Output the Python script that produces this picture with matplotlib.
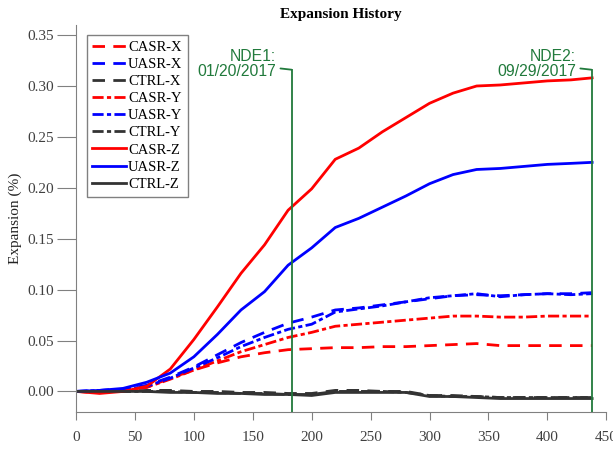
import numpy as np
import matplotlib.pyplot as plt

# --- datos ---
days = [0, 20, 40, 60, 80, 100, 120, 140, 160, 180, 200, 220, 240, 260, 280,
        300, 320, 340, 360, 380, 400, 420, 438]

casr_x = [0, -0.001, 0.001, 0.004, 0.013, 0.021, 0.028, 0.034, 0.038, 0.041, 0.042, 0.043,
          0.043, 0.044, 0.044, 0.045, 0.046, 0.047, 0.045, 0.045, 0.045, 0.045, 0.045]
uasr_x = [0, 0.001, 0.002, 0.006, 0.014, 0.024, 0.036, 0.048, 0.058, 0.067, 0.073, 0.080,
          0.082, 0.085, 0.088, 0.091, 0.094, 0.095, 0.094, 0.095, 0.096, 0.096, 0.097]
ctrl_x = [0, 0.000, 0.000, 0.001, 0.001, 0.000, 0.000, -0.001, -0.001, -0.002, -0.002, 0.001,
          0.001, 0.000, 0.000, -0.004, -0.004, -0.005, -0.006, -0.006, -0.006, -0.006, -0.006]
casr_y = [0, -0.001, 0.001, 0.004, 0.012, 0.021, 0.030, 0.039, 0.046, 0.053, 0.058, 0.064,
          0.066, 0.068, 0.070, 0.072, 0.074, 0.074, 0.073, 0.073, 0.074, 0.074, 0.074]
uasr_y = [0, 0.001, 0.002, 0.005, 0.013, 0.023, 0.033, 0.044, 0.053, 0.061, 0.066, 0.078,
          0.081, 0.084, 0.088, 0.092, 0.094, 0.096, 0.093, 0.095, 0.096, 0.095, 0.096]
ctrl_y = [0, 0.000, 0.000, 0.000, 0.000, -0.001, -0.001, -0.002, -0.002, -0.003, -0.003, 0.000,
          0.000, 0.000, -0.001, -0.004, -0.005, -0.005, -0.006, -0.006, -0.006, -0.006, -0.006]
casr_z = [0, -0.002, 0.000, 0.005, 0.022, 0.051, 0.083, 0.116, 0.144, 0.178, 0.199, 0.228,
          0.239, 0.255, 0.269, 0.283, 0.293, 0.300, 0.301, 0.303, 0.305, 0.306, 0.308]
uasr_z = [0, 0.001, 0.003, 0.009, 0.018, 0.034, 0.056, 0.080, 0.098, 0.124, 0.141, 0.161,
          0.170, 0.181, 0.192, 0.204, 0.213, 0.218, 0.219, 0.221, 0.223, 0.224, 0.225]
ctrl_z = [0, 0.000, 0.000, 0.000, -0.001, -0.001, -0.002, -0.002, -0.003, -0.003, -0.004, -0.001,
          -0.001, -0.001, -0.001, -0.005, -0.005, -0.006, -0.007, -0.007, -0.007, -0.007, -0.007]

nde_days = [183, 437.5]
nde_labels = ['NDE1:\n01/20/2017', 'NDE2:\n09/29/2017']

plt.rcParams['font.family'] = 'Liberation Serif'

fig = plt.figure(figsize=(6.13, 4.53), dpi=100)
ax = fig.add_axes([0.124, 0.091, 0.865, 0.854])

dash = (0, (4.5, 3))
dashdot = (0, (4, 1.2, 1.5, 1.2))
lw = 2.0

series = [
    (casr_x, 'red', dash, 'CASR-X'),
    (uasr_x, 'blue', dash, 'UASR-X'),
    (ctrl_x, '#333333', dash, 'CTRL-X'),
    (casr_y, 'red', dashdot, 'CASR-Y'),
    (uasr_y, 'blue', dashdot, 'UASR-Y'),
    (ctrl_y, '#333333', dashdot, 'CTRL-Y'),
    (casr_z, 'red', '-', 'CASR-Z'),
    (uasr_z, 'blue', '-', 'UASR-Z'),
    (ctrl_z, '#333333', '-', 'CTRL-Z'),
]
for vals, col, ls, lab in series:
    ax.plot(days, vals, color=col, linestyle=ls, linewidth=lw, label=lab)

# líneas NDE
green = '#217a3c'
for d, txt in zip(nde_days, nde_labels):
    ax.plot([d, d], [-0.02, 0.316], color=green, linewidth=1.3, zorder=5)
    ax.annotate(txt, xy=(d, 0.316), xytext=(d - 13, 0.322), ha='right', va='center',
                color=green, fontsize=11.3, family='Liberation Sans', linespacing=1.0,
                arrowprops=dict(arrowstyle='-', color=green, lw=1.3,
                                shrinkA=1, shrinkB=0))

ax.set_xlim(0, 450)
ax.set_ylim(-0.02, 0.36)
ax.set_xticks(np.arange(0, 451, 50))
ax.set_yticks(np.arange(0, 0.351, 0.05))
ax.set_yticklabels([f'{v:.2f}' for v in np.arange(0, 0.351, 0.05)])

for s in ['top', 'right']:
    ax.spines[s].set_visible(False)
for s in ['left', 'bottom']:
    ax.spines[s].set_color('#808080')
ax.tick_params(axis='y', direction='out', length=14, color='#808080', labelsize=11,
               labelcolor='#404040', pad=2)
ax.tick_params(axis='x', direction='out', length=6, color='#808080', labelsize=11,
               labelcolor='#404040', pad=8)

ax.set_ylabel('Expansion (%)', fontsize=11, color='#222222', labelpad=4)
ax.set_title('Expansion History', fontsize=11, fontweight='bold', pad=5)

leg = ax.legend(loc='upper left', bbox_to_anchor=(0.02, 0.975), fontsize=10.5,
                handlelength=2.3, handletextpad=0.15, labelspacing=0.27,
                borderpad=0.4, borderaxespad=0, fancybox=False, framealpha=1)
leg.get_frame().set_edgecolor('#808080')
leg.get_frame().set_linewidth(1.0)

fig.savefig('out.png', dpi=100)
